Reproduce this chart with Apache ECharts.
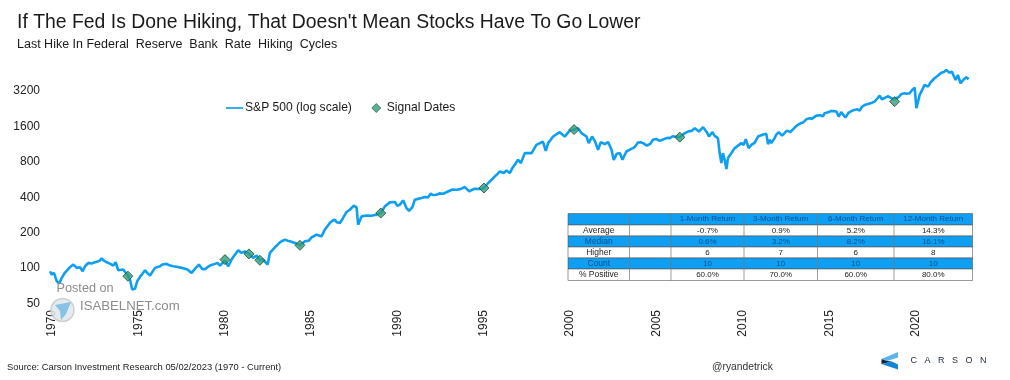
<!DOCTYPE html>
<html><head><meta charset="utf-8">
<style>html,body{margin:0;padding:0;background:#fff}#c{width:1010px;height:380px}</style>
<script src="https://cdn.jsdelivr.net/npm/echarts@6/dist/echarts.min.js"></script>
</head><body><div id="c"></div>
<script>
const titleText = "If The Fed Is Done Hiking, That Doesn't Mean Stocks Have To Go Lower";
const subtitleText = "Last Hike In Federal  Reserve  Bank  Rate  Hiking  Cycles";
const sourceText = "Source: Carson Investment Research 05/02/2023 (1970 - Current)";
const handleText = "@ryandetrick";
const yTicks = [50,100,200,400,800,1600,3200];

const years = [1970.00,1970.10,1970.23,1970.39,1970.54,1970.68,1970.87,1971.12,1971.35,1971.55,1971.74,1971.89,1972.03,1972.22,1972.60,1972.76,1972.99,1973.28,1973.47,1973.66,1973.80,1973.95,1974.24,1974.51,1974.63,1974.76,1974.92,1975.05,1975.21,1975.50,1975.63,1975.79,1976.08,1976.37,1976.75,1977.14,1977.62,1977.95,1978.20,1978.39,1978.62,1978.81,1978.97,1979.26,1979.55,1979.70,1979.84,1980.13,1980.32,1980.51,1980.71,1980.90,1981.09,1981.28,1981.52,1981.76,1981.96,1982.15,1982.34,1982.60,1982.73,1983.02,1983.31,1983.60,1983.89,1984.18,1984.47,1984.76,1984.99,1985.14,1985.43,1985.72,1985.91,1986.20,1986.49,1986.78,1986.97,1987.17,1987.36,1987.59,1987.75,1987.84,1987.94,1988.04,1988.33,1988.62,1988.87,1989.15,1989.39,1989.68,1989.97,1990.10,1990.25,1990.45,1990.64,1990.79,1990.99,1991.12,1991.51,1991.89,1992.03,1992.38,1992.76,1993.05,1993.54,1994.02,1994.27,1994.60,1994.89,1995.12,1995.37,1995.66,1996.04,1996.27,1996.43,1996.62,1996.91,1997.10,1997.26,1997.49,1997.88,1998.16,1998.54,1998.70,1998.84,1999.13,1999.51,1999.80,2000.09,2000.34,2000.57,2000.77,2001.06,2001.19,2001.38,2001.54,2001.73,2001.89,2002.12,2002.31,2002.51,2002.64,2002.80,2002.99,2003.14,2003.37,2003.85,2004.04,2004.33,2004.56,2004.91,2005.30,2005.59,2005.88,2006.17,2006.46,2006.75,2006.94,2007.14,2007.33,2007.57,2007.81,2008.04,2008.15,2008.35,2008.48,2008.67,2008.77,2008.87,2008.96,2009.06,2009.16,2009.25,2009.45,2009.64,2010.03,2010.16,2010.28,2010.45,2010.61,2010.99,2011.47,2011.57,2011.67,2011.76,2011.95,2012.19,2012.38,2012.67,2012.86,2013.30,2013.59,2013.98,2014.37,2014.85,2015.24,2015.53,2015.66,2015.81,2016.05,2016.24,2016.58,2016.88,2017.16,2017.74,2018.03,2018.16,2018.61,2018.84,2019.13,2019.48,2019.77,2020.06,2020.16,2020.35,2020.64,2020.83,2021.21,2021.60,2021.89,2022.08,2022.21,2022.43,2022.56,2022.72,2022.91,2023.05,2023.18];
const spx = [91.2,85.5,88.4,75.1,71.8,80.2,89,97.5,104,97.5,98.6,91.2,100.6,107.5,108.8,110.2,117.6,108.8,106,102,108.8,93,94.3,83.9,77.6,63.9,64.7,75.1,81.8,93,88.4,83.9,97.5,100.6,105.4,100.6,97.5,94.3,88.4,95.6,104,95.6,95.2,102,105.4,107.5,102,112.4,100.6,114.6,126.4,137.5,130.6,134.8,128.1,118.5,123.9,113.1,114.6,104,130.6,145.8,160.7,169.4,163.9,158.9,151.5,163.9,166.1,177.2,186.7,180.7,205.9,234.8,250.4,234.8,258.8,291,304,329,318,227,232,267,272,270.6,276,285,325,351,354,329,335,365,314,298,321,370,382,387,416,408,416,441,450,474,435,458,456,465,513,565,643,623,655,623,732,808,757,921,921,1082,1154,963,1119,1273,1387,1273,1431,1459,1500,1361,1273,1119,1273,1170,982,1142,1097,1142,982,804,903,921,808,950,1035,1133,1119,1068,1194,1170,1217,1234,1273,1258,1361,1403,1422,1500,1403,1529,1376,1273,1387,1290,1234,921,757,921,808,674,835,921,1015,1119,1082,1210,1015,1082,1273,1342,1097,1194,1119,1234,1387,1298,1431,1387,1600,1673,1824,1918,2011,2102,2075,1882,2051,1845,2035,2144,2115,2363,2522,2835,2643,2874,2643,2747,2971,2971,3315,2216,2874,3494,3379,3981,4442,4682,4442,4531,3853,4246,3613,3904,4061,3904];
const detailYears = [1972.4,1972.9,1973.1,1975.35,1976.5,1976.95,1977.4,1978.05,1983.15,1983.45,1983.75,1985.3,1986.35,1986.6,1991.3,1991.7,1992.2,1992.55,1992.95,1993.3,1993.75,1994.4,1995.9,1996.15,1996.75,2003.6,2004.2,2004.75,2005.1,2005.45,2005.75,2006.05,2010.8,2011.25,2012.05,2013.1,2013.45,2013.8,2014.1,2014.2,2014.6,2014.75,2015.05,2015.35,2016.4,2016.75,2017.0,2017.4,2017.6,2017.9,2018.35,2018.5,2019.3,2019.6,2019.9,2021.0,2021.4,2021.75,2022.0];
const detailSpx = [106,113,113,87,104,102,99,92,152,165,166,182,245,238,376,390,405,419,428,452,455,447,610,650,680,990,1140,1105,1215,1195,1240,1280,1130,1320,1320,1510,1650,1790,1800,1870,1930,1890,2050,2115,2095,2170,2270,2420,2470,2680,2720,2800,2930,2940,3150,3700,4180,4500,4700];

const signalYears = [1974.51,1980.13,1981.52,1982.15,1984.47,1989.15,1995.12,2000.34,2006.46,2018.90];
const signalValues = [82.8,114.6,128.1,113.1,151.5,285,465,1459,1258,2522];

const tableHeader = ["","","1-Month Return","3-Month Return","6-Month Return","12-Month Return"];
const tableRows = [
 ["Average","","-0.7%","0.9%","5.2%","14.3%"],
 ["Median","","0.6%","3.2%","8.2%","16.1%"],
 ["Higher","","6","7","6","8"],
 ["Count","","10","10","10","10"],
 ["% Positive","","60.0%","70.0%","60.0%","80.0%"]
];
const BLUE = "#0f9ff2";
const font = '"Liberation Sans", Arial, sans-serif';

const linePoints = years.map((y,i)=>[y,spx[i]])
  .concat(detailYears.map((y,i)=>[y,detailSpx[i]]))
  .sort((a,b)=>a[0]-b[0]);

// table layout
const colX = [568,629.5,671,744,817.5,894,972.5];
const rowY = [213.5,225,236,247,258,269,280.5];
const tableEls = [];
[tableHeader].concat(tableRows).forEach((row,r)=>{
  const filled = r%2===0 && r<5;
  tableEls.push({type:'rect',shape:{x:colX[0],y:rowY[r],width:colX[6]-colX[0],height:rowY[r+1]-rowY[r]},
    style:{fill:filled?BLUE:'#fff',stroke:'#555',lineWidth:0.6},z:20});
  row.forEach((t,c)=>{
    if(!t) return;
    const cx = c===0 ? (colX[0]+colX[1])/2 : (colX[c]+colX[c+1])/2;
    const size = c===0 ? 8.5 : 8;
    tableEls.push({type:'text',style:{x:cx,y:(rowY[r]+rowY[r+1])/2,text:t,fill:filled?'#07508f':'#222',
      font:size+'px '+font,textAlign:'center',textVerticalAlign:'middle'},z:22});
  });
});
for(let c=1;c<6;c++){
  tableEls.push({type:'line',shape:{x1:colX[c],y1:rowY[0],x2:colX[c],y2:rowY[6]},style:{stroke:'#777',lineWidth:0.7},z:21});
}

const chart = echarts.init(document.getElementById('c'),null,{renderer:'canvas'});
chart.setOption({
  animation:false,
  backgroundColor:'#fff',
  title:[
    {text:titleText,left:17,top:13,padding:0,textStyle:{fontFamily:font,fontSize:19.4,fontWeight:'normal',color:'#1a1a1a'}},
    {text:subtitleText,left:17,top:38,padding:0,textStyle:{fontFamily:font,fontSize:12.5,fontWeight:'normal',color:'#1a1a1a'}},
    {text:sourceText,left:7,top:363,padding:0,textStyle:{fontFamily:font,fontSize:9.35,fontWeight:'normal',color:'#222'}},
    {text:handleText,left:712,top:362,padding:0,textStyle:{fontFamily:font,fontSize:10.3,fontWeight:'normal',color:'#333'}}
  ],
  legend:{left:226,top:102,padding:0,itemGap:19.5,itemWidth:17,itemHeight:9,
    textStyle:{fontFamily:font,fontSize:12.1,color:'#1a1a1a',padding:[0,0,0,-3]},
    data:[{name:'S&P 500 (log scale)',icon:'path://M0 45H100V55H0Z'},
          {name:'Signal Dates',icon:'path://M50 10L90 50L50 90L10 50Z',itemStyle:{color:'#2f9e78',borderColor:'#1c4a3a',borderWidth:0.8}}]},
  grid:{left:50,right:10,top:54,bottom:78},
  xAxis:{type:'value',min:1970,max:2025,interval:5,
    axisLine:{show:false},axisTick:{show:false},splitLine:{show:false},
    axisLabel:{rotate:90,margin:8,showMaxLabel:false,fontFamily:font,fontSize:12,color:'#222',
      formatter:v=>'{t|'+v+'}',rich:{t:{fontFamily:font,fontSize:12,color:'#222',padding:[4,0,0,0]}}}},
  yAxis:{type:'log',logBase:2,min:50,max:6400,
    axisLine:{show:false},axisTick:{show:false},splitLine:{show:false},
    axisLabel:{margin:10,fontFamily:font,fontSize:12,color:'#222',customValues:yTicks,
      formatter:v=>'{t|'+Math.round(v)+'}',rich:{t:{fontFamily:font,fontSize:12,color:'#222',padding:[3,0,0,0]}}}},
  series:[
    {name:'S&P 500 (log scale)',type:'line',showSymbol:false,symbol:'none',smooth:false,
      lineStyle:{color:BLUE,width:2.6},itemStyle:{color:BLUE},data:linePoints,z:2},
    {name:'Signal Dates',type:'scatter',symbol:'diamond',symbolSize:10,
      itemStyle:{color:'#2f9e78',borderColor:'#1c4a3a',borderWidth:1},
      data:signalYears.map((y,i)=>[y,signalValues[i]]),z:3}
  ],
  graphic:{elements:tableEls.concat([
    // watermark
    {type:'text',style:{x:56.5,y:288,text:'Posted on',fill:'#8c8c8c',font:'12.7px '+font,textVerticalAlign:'middle'},z:30},
    {type:'text',style:{x:80,y:306.5,text:'ISABELNET.com',fill:'#8c8c8c',font:'13.2px '+font,textVerticalAlign:'middle'},z:30},
    {type:'circle',shape:{cx:62.5,cy:310,r:11.5},style:{fill:'#dfe6ea',stroke:'#c4c9cc',lineWidth:1.5,opacity:.85},z:29},
    {type:'polygon',shape:{points:[[55,305],[71,302],[66,314],[61,320],[60,311]]},style:{fill:'#7dbfe6',opacity:.9},z:30},
    // logo
    {type:'polygon',shape:{points:[[898,352],[898,357.5],[887,361],[881.5,359]]},style:{fill:'#5ab4ee'},z:30},
    {type:'polygon',shape:{points:[[881.5,359],[887,361],[892,361.5],[881.5,364]]},style:{fill:'#10263f'},z:30},
    {type:'polygon',shape:{points:[[881.5,364],[892,361.5],[898,364.5],[898,369.5]]},style:{fill:'#1685d8'},z:30},
    {type:'text',style:{x:948.5,y:360.5,text:'C   A   R   S   O   N',fill:'#1b2a3a',font:'9px '+font,textAlign:'center',textVerticalAlign:'middle'},z:30}
  ])}
});
</script></body></html>
